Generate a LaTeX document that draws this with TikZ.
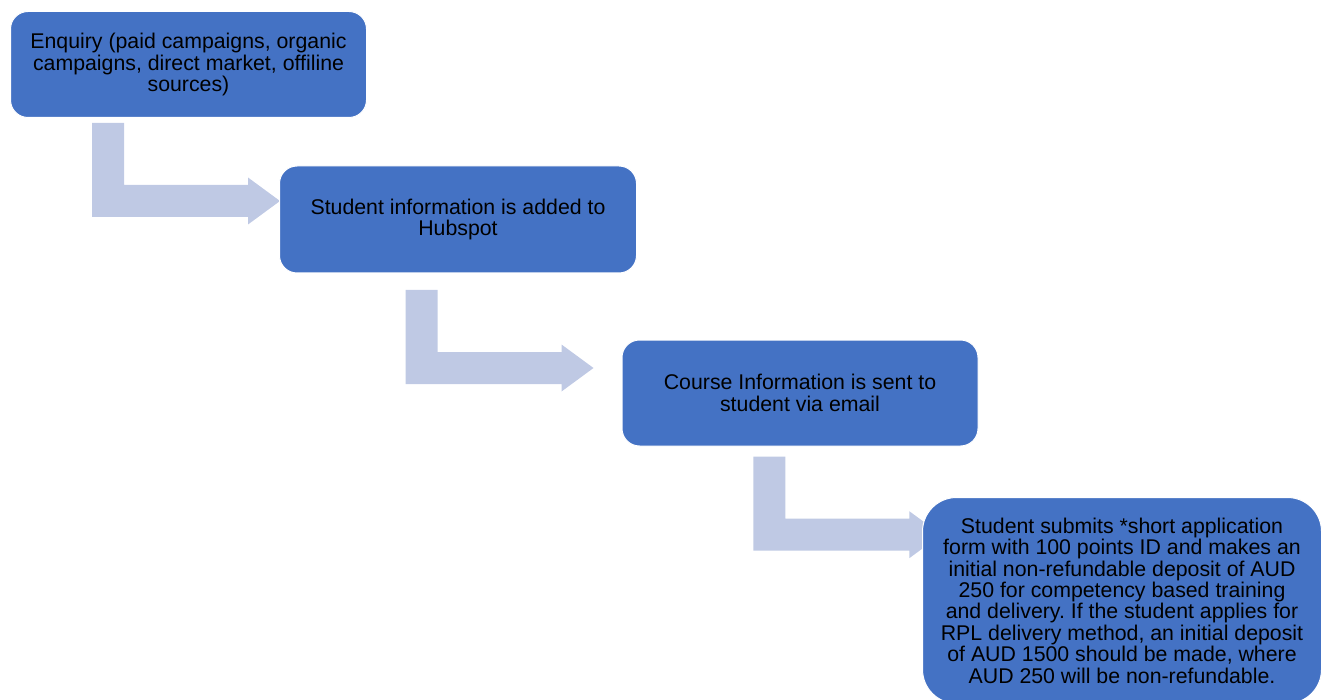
\documentclass[tikz,border=0pt]{standalone}
\usepackage{fontspec}
\setmainfont{Liberation Sans}
\frenchspacing
\definecolor{boxblue}{HTML}{4472C4}
\definecolor{arrowfill}{HTML}{BFC9E4}
\begin{document}
\begin{tikzpicture}[x=1pt,y=-1pt,
  stepbox/.style={draw=white, line width=1pt, fill=boxblue, anchor=north west,
    inner sep=0pt, align=center, text=black,
    font=\fontsize{21.3}{21.4}\selectfont},
  bent/.pic={\fill[arrowfill] (0,0) -- (32,0) -- (32,62) -- (156,62) -- (156,54.5)
    -- (188,78) -- (156,101.5) -- (156,94) -- (0,94) -- cycle;}]
\useasboundingbox (0,0) rectangle (1324,700);
% connectors (bent arrows)
\pic at (92,123) {bent};
\pic at (405.5,290) {bent};
\pic at (753.3,456.7) {bent};
% boxes
\node[stepbox, rounded corners=17.5pt, minimum width=356pt, minimum height=106pt]
  (enq) at (10,11) {Enquiry (paid campaigns, organic\\campaigns, direct market, offiline\\sources)};
\node[stepbox, rounded corners=17.5pt, minimum width=357pt, minimum height=107pt]
  (hub) at (279,165.5) {Student information is added to\\Hubspot};
\node[stepbox, rounded corners=17.5pt, minimum width=356pt, minimum height=106pt]
  (course) at (621.5,339.5) {Course Information is sent to\\student via email};
\node[stepbox, rounded corners=34pt, minimum width=399pt, minimum height=206pt]
  (submit) at (922,497) {Student submits *short application\\form with 100 points ID and makes an\\initial non-refundable deposit of AUD\\250 for competency based training\\and delivery. If the student applies for\\RPL delivery method, an initial deposit\\of AUD 1500 should be made, where\\AUD 250 will be non-refundable.};
\end{tikzpicture}
\end{document}
